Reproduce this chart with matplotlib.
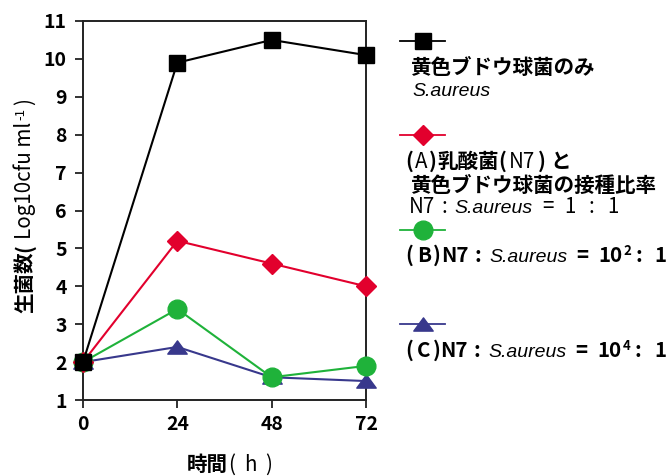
import matplotlib
matplotlib.use('Agg')
import matplotlib.pyplot as plt
from matplotlib.lines import Line2D
from matplotlib.path import Path

# ---- data ----
hours = [0, 24, 48, 72]
saureus_only = [2.0, 9.9, 10.5, 10.1]
ratio_1_1 = [2.0, 5.2, 4.6, 4.0]
ratio_100_1 = [2.0, 3.4, 1.6, 1.9]
ratio_10000_1 = [2.0, 2.4, 1.6, 1.5]
yticks = list(range(1, 12))
xticks = [0, 24, 48, 72]

JP = 'Noto Sans CJK JP'
LAT = 'Liberation Sans'
W, H = 670, 476

BLACK = '#000000'
RED = '#e2002d'
GREEN = '#1fb23a'
BLUE = '#38388c'

tri = Path([(0, 0.68), (-1, -0.68), (1, -0.68), (0, 0.68)],
           [Path.MOVETO, Path.LINETO, Path.LINETO, Path.CLOSEPOLY])

fig = plt.figure(figsize=(W / 100, H / 100), dpi=100)
ax = fig.add_axes([83 / W, 1 - 400 / H, (366 - 83) / W, (400 - 21) / H])

ax.plot(hours, ratio_10000_1, color=BLUE, lw=1.5, marker=tri, ms=14,
        mec=BLUE, mfc=BLUE, clip_on=False, zorder=3)
ax.plot(hours, ratio_100_1, color=GREEN, lw=1.5, marker='o', ms=13.5,
        mec=GREEN, mfc=GREEN, clip_on=False, zorder=4)
ax.plot(hours, ratio_1_1, color=RED, lw=1.5, marker='D', ms=10,
        mec=RED, mfc=RED, clip_on=False, zorder=5)
ax.plot(hours, saureus_only, color=BLACK, lw=1.5, marker='s', ms=11.5,
        mec=BLACK, mfc=BLACK, clip_on=False, zorder=6)

ax.set_xlim(0, 72)
ax.set_ylim(1, 11)
ax.set_xticks(xticks)
ax.set_yticks(yticks)
ax.set_xticklabels([str(v) for v in xticks], family=JP, weight='bold', fontsize=14)
ax.set_yticklabels([str(v) for v in yticks], family=JP, weight='bold', fontsize=14)
ax.tick_params(direction='out', length=5.8, width=1.3, color='#222222')
ax.tick_params(axis='y', pad=6)
ax.tick_params(axis='x', pad=5)
for sp in ax.spines.values():
    sp.set_linewidth(1.4)
    sp.set_color('#222222')

r = fig.canvas.get_renderer()


def seq(x, y, pieces, rot=0):
    for s, kw, gap, rise in pieces:
        if rot == 0:
            x += gap
            t = fig.text(x / W, 1 - (y - rise) / H, s, ha='left', va='baseline', **kw)
            x += t.get_window_extent(r).width
        else:
            y -= gap
            t = fig.text((x - rise) / W, 1 - y / H, s, ha='left', va='baseline',
                         rotation=90, rotation_mode='anchor', **kw)
            y -= t.get_window_extent(r).height


FS = 14.8
B = dict(family=JP, weight='bold', size=FS)
R = dict(family=JP, weight='normal', size=FS)
I = dict(family=LAT, style='italic', size=14)
SB = dict(family=JP, weight='bold', size=9.5)
SR = dict(family=JP, weight='normal', size=9.5)

# legend glyphs
def glyph(y, color, marker, ms):
    fig.add_artist(Line2D([400 / W, 445 / W], [1 - y / H] * 2, color=color, lw=1.3))
    fig.add_artist(Line2D([423 / W], [1 - y / H], marker=marker, ms=ms,
                          color=color, mec=color, mfc=color, lw=0))

glyph(41, BLACK, 's', 11.5)
glyph(135, RED, 'D', 10)
glyph(230, GREEN, 'o', 13.5)
glyph(324, BLUE, tri, 14)

seq(410, 74, [("黄色ブドウ球菌のみ", B, 0, 0)])
seq(412, 96, [("S.aureus", I, 0, 0)])

seq(405, 168, [("(", B, 0, 0), ("A", R, 2, 0), (")", B, 2, 0), ("乳酸菌", B, 0, 0),
               ("(", B, 0, 0), ("N7", R, 2, 0), (")", B, 3, 0), ("と", B, 5, 0)])
seq(410, 192, [("黄色ブドウ球菌の接種比率", B, 0, 0)])
seq(409, 213, [("N7", R, 0, 0), (":", R, 6, 0), ("S.aureus", I, 7, 0), ("=", R, 10, 0),
               ("1", R, 11, 0), (":", R, 13, 0), ("1", R, 13, 0)])

seq(405, 262, [("(", B, 0, 0), ("B", B, 4, 0), (")", B, 2, 0), ("N7", B, 0, 0),
               (":", B, 6, 0), ("S.aureus", I, 8, 0), ("=", B, 9, 0),
               ("10", B, 10, 0), ("2", SB, 1, 7), (":", B, 4, 0), ("1", B, 13, 0)])
seq(405, 357, [("(", B, 0, 0), ("C", B, 4, 0), (")", B, 2, 0), ("N7", B, 0, 0),
               (":", B, 6, 0), ("S.aureus", I, 8, 0), ("=", B, 9, 0),
               ("10", B, 10, 0), ("4", SB, 1, 7), (":", B, 4, 0), ("1", B, 13, 0)])

# axis labels
seq(187, 471, [("時間", B, 0, 0), ("(", R, 0, 0), ("h", R, 9, 0), (")", R, 9, 0)])
seq(31, 313, [("生菌数", B, 0, 0), ("(", B, 0, 0), ("Log10cfu ml", R, 5, 0),
              ("-1", SR, 1, 7), (")", R, 3, 0)], rot=90)

fig.savefig('out.png', dpi=100)
